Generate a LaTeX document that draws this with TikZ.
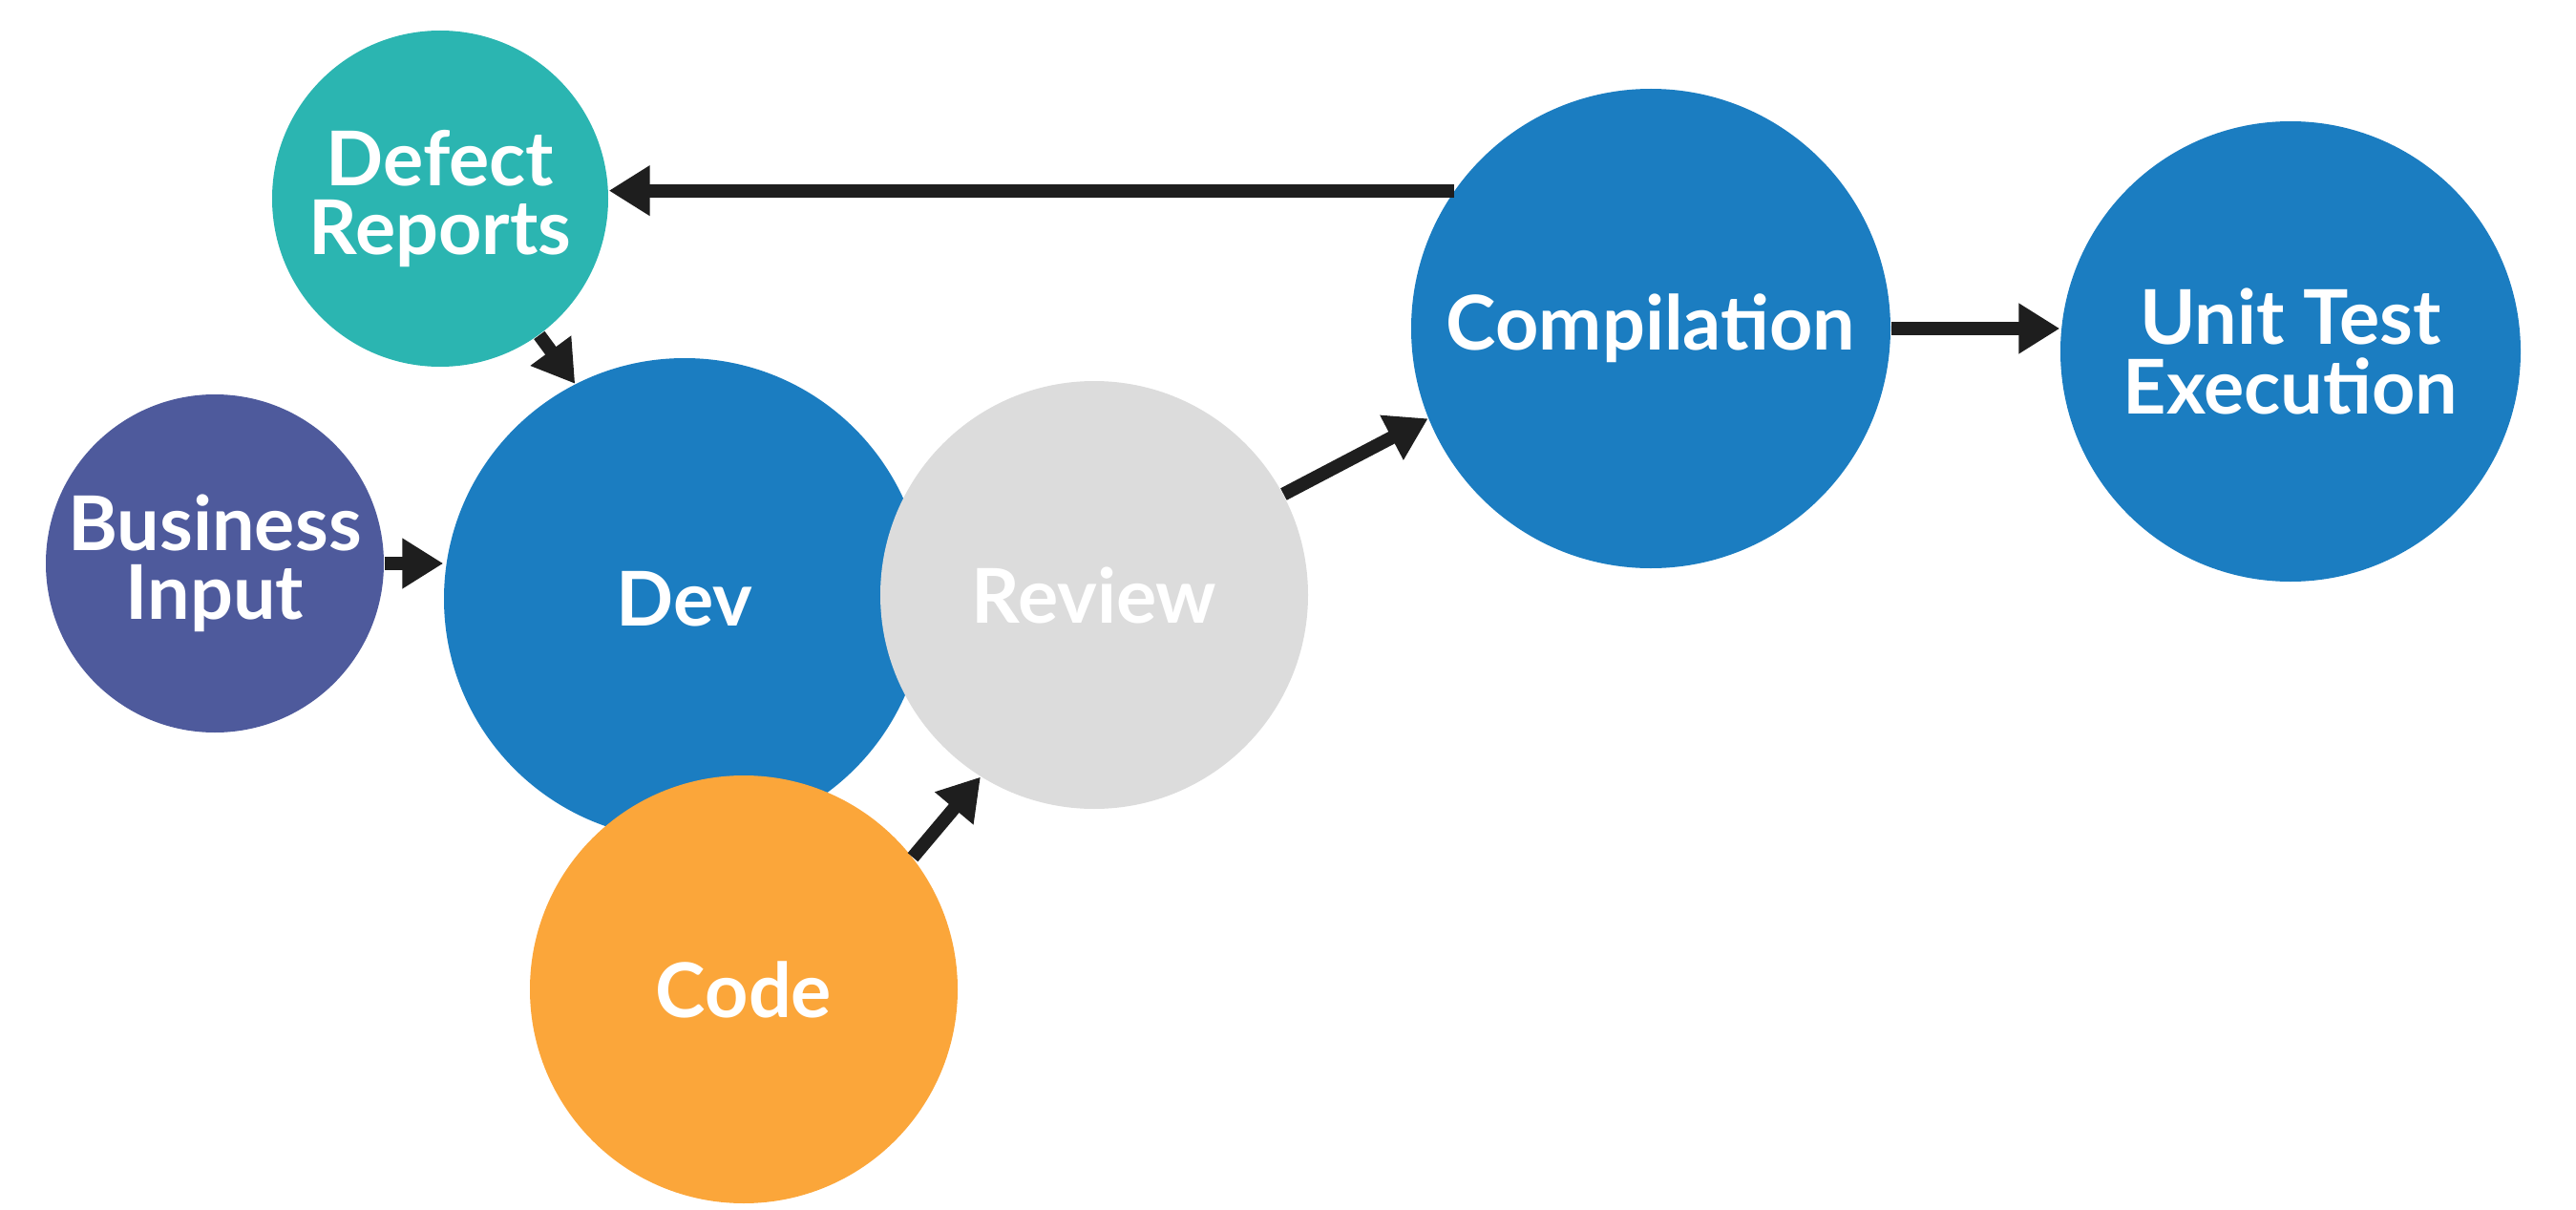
\documentclass[tikz,border=0pt]{standalone}
\usepackage{fontspec}
\setmainfont{Lato}
\usepackage{xcolor}
\usepackage{tikz}
\usetikzlibrary{arrows.meta, positioning}
\definecolor{dteal}{HTML}{2BB5B1}
\definecolor{dpurple}{HTML}{4E5A9C}
\definecolor{dblue}{HTML}{1B7DC1}
\definecolor{dgray}{HTML}{DCDCDC}
\definecolor{dorange}{HTML}{FBA63A}
\definecolor{darr}{HTML}{1E1E1E}

\begin{document}
\begin{tikzpicture}[x=1cm, y=1cm,
  stage/.style={circle, inner sep=0pt, text=white, align=center,
    font=\fontsize{22.5}{20.5}\selectfont\bfseries},
  flow/.style={draw=darr, line width=0.14cm,
    -{Triangle[length=0.43cm, width=0.5cm]}}]
\useasboundingbox (0,0) rectangle (26.98,12.66);
\node[stage, fill=dpurple, minimum size=3.54cm] (biz) at (2.25,6.76) {Business\\Input};
\node[stage, fill=dteal, minimum size=3.52cm] (defect) at (4.61,10.58) {Defect\\Reports};
\node[stage, fill=dblue, minimum size=5.04cm] (dev) at (7.17,6.39) {Dev};
\node[stage, fill=dgray, minimum size=4.48cm] (review) at (11.46,6.43) {Review};
\node[stage, fill=dorange, minimum size=4.48cm] (code) at (7.79,2.30) {Code};
\node[stage, fill=dblue, minimum size=5.02cm] (comp) at (17.29,9.22) {Compilation};
\node[stage, fill=dblue, minimum size=4.82cm] (unit) at (23.99,8.98) {Unit Test\\Execution};
% connectors
\draw[flow] (comp.145) -- (comp.145 -| defect.east);
\draw[flow] (defect.-54) -- (dev.117);
\draw[flow] (biz.east) -- (biz.east -| dev.west);
\draw[flow] (code.38) -- (review.238);
\draw[flow] (review.28) -- (comp.202);
\draw[flow] (comp.east) -- (comp.east -| unit.west);
\end{tikzpicture}
\end{document}
